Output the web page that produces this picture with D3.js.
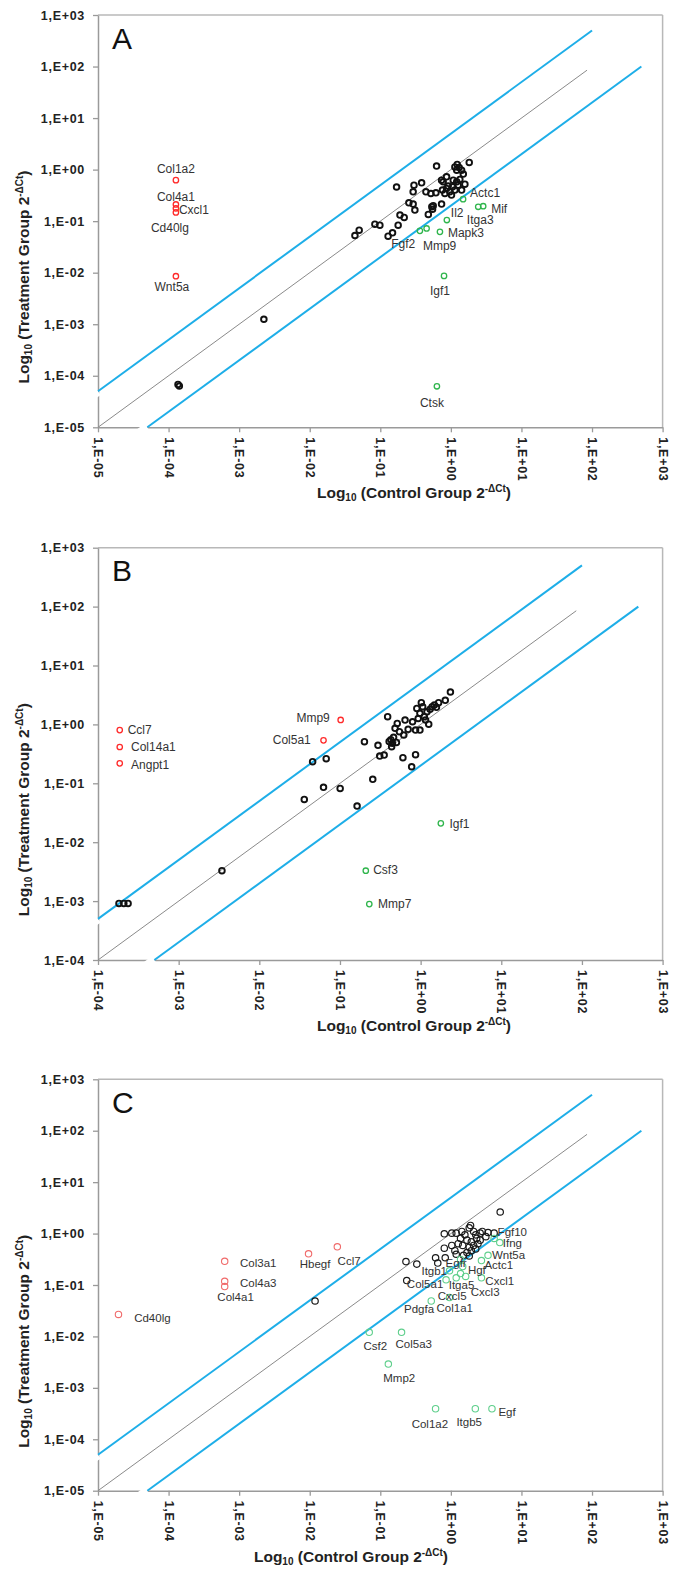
<!DOCTYPE html>
<html>
<head>
<meta charset="utf-8">
<style>
  body { margin: 0; background: #fff; font-family: "Liberation Sans", Arial, sans-serif; }
  svg { display: block; }
  .tick text { font-family: "Liberation Sans", Arial, sans-serif; font-weight: bold; font-size: 12.5px; letter-spacing: 0.7px; fill: #222; }
  .gene { font-size: 12px; fill: #333; }
  .title { font-weight: bold; font-size: 15.5px; fill: #222; }
  .panelLetter { font-size: 30px; fill: #111; }
</style>
<script src="https://d3js.org/d3.v7.min.js"></script>
</head>
<body>
<svg id="chart"></svg>
<script>
  // ---- data (x = control 2^-dCt, y = treatment 2^-dCt) ----
  const ticksAC = [1e-5, 1e-4, 1e-3, 1e-2, 1e-1, 1e0, 1e1, 1e2, 1e3];
  const tickLabelsAC = ["1,E-05", "1,E-04", "1,E-03", "1,E-02", "1,E-01", "1,E+00", "1,E+01", "1,E+02", "1,E+03"];
  const ticksB = [1e-4, 1e-3, 1e-2, 1e-1, 1e0, 1e1, 1e2, 1e3];
  const tickLabelsB = ["1,E-04", "1,E-03", "1,E-02", "1,E-01", "1,E+00", "1,E+01", "1,E+02", "1,E+03"];

  // fold lines: y = ratio * x, drawn up to xEnd
  const guideLines = [
    { ratio: 5, xEnd: 100, kind: "blue" },
    { ratio: 1, xEnd: 85, kind: "gray" },
    { ratio: 0.2, xEnd: 500, kind: "blue" }
  ];

  const blackA = [
    [2.24e-3, 1.25e-3], [1.36e-4, 6.8e-5], [1.42e-4, 6.3e-5],
    [0.17, 0.46], [0.627, 1.17], [0.30, 0.50], [0.385, 0.555], [0.292, 0.371], [0.443, 0.371],
    [0.521, 0.344], [0.614, 0.355], [0.738, 0.625], [0.869, 0.724], [0.76, 0.40], [0.738, 0.214],
    [0.537, 0.191], [0.55, 0.17], [0.562, 0.20], [0.479, 0.135], [0.254, 0.227], [0.292, 0.214],
    [0.309, 0.164], [0.19, 0.131], [0.218, 0.118], [0.179, 0.0836], [0.149, 0.0593], [0.129, 0.0512],
    [0.0838, 0.0875], [0.0986, 0.0836], [0.0502, 0.0668], [0.0437, 0.0527],
    [1.14, 1.13], [1.23, 1.26], [1.31, 1.10], [1.42, 0.977], [1.21, 0.977], [1.82, 1.38],
    [1.50, 0.818], [1.58, 0.522], [1.34, 0.646], [1.21, 0.579], [1.08, 0.625], [1.27, 0.50],
    [1.06, 0.463], [0.916, 0.479], [0.968, 0.371], [1.14, 0.40], [0.822, 0.344], [0.869, 0.432],
    [1.02, 0.32], [1.42, 0.40], [0.778, 0.579]
  ];
  const redA = [
    ["Col1a2", 1.27e-4, 0.625], ["Col4a1", 1.27e-4, 0.211], ["Cxcl1", 1.27e-4, 0.177],
    ["Cd40lg", 1.27e-4, 0.148], ["Wnt5a", 1.27e-4, 0.00855]
  ];
  const greenA = [
    ["Actc1", 1.49, 0.267], ["Mif", 2.87, 0.195], ["Itga3", 2.44, 0.19], ["Il2", 0.877, 0.105],
    ["Mapk3", 0.70, 0.062], ["Mmp9", 0.453, 0.0721], ["Fgf2", 0.364, 0.0649],
    ["Igf1", 0.80, 0.00867], ["Ctsk", 0.634, 6.25e-5]
  ];

  const blackB = [
    [1.82e-4, 9.12e-4], [2.09e-4, 9.12e-4], [2.36e-4, 9.12e-4], [3.44e-3, 3.28e-3],
    [0.0361, 0.0533], [0.0625, 0.0853], [0.1005, 0.082], [0.163, 0.0411], [0.255, 0.117],
    [0.0458, 0.233], [0.0675, 0.262], [0.201, 0.508], [0.296, 0.441], [0.311, 0.29], [0.353, 0.302],
    [0.39, 1.35], [0.427, 0.55], [0.447, 0.479], [0.437, 0.417], [0.462, 0.603], [0.407, 0.513],
    [0.501, 0.495], [0.603, 0.272], [0.774, 0.191], [0.865, 0.306], [0.482, 0.857], [0.546, 0.752],
    [0.513, 1.04], [0.618, 0.659], [0.70, 0.824], [0.641, 1.186], [0.794, 1.11], [0.865, 0.802],
    [0.98, 0.802], [0.897, 1.87], [0.98, 1.54], [1.06, 2.0], [1.11, 1.35], [1.20, 1.64],
    [1.31, 1.80], [1.39, 2.0], [1.48, 2.13], [1.57, 1.95], [1.15, 1.19], [1.26, 1.01],
    [0.933, 1.26], [1.02, 2.34], [1.67, 2.34], [2.02, 2.56], [2.34, 3.55]
  ];
  const redB = [
    ["Ccl7", 1.86e-4, 0.80], ["Col14a1", 1.86e-4, 0.413], ["Angpt1", 1.86e-4, 0.218],
    ["Mmp9", 0.102, 1.19], ["Col5a1", 0.0625, 0.536]
  ];
  const greenB = [
    ["Igf1", 1.78, 0.0209], ["Csf3", 0.209, 3.28e-3], ["Mmp7", 0.231, 8.9e-4]
  ];

  const blackC = [
    [0.0119, 0.0488], [0.231, 0.285], [0.329, 0.255], [0.237, 0.122], [5.0, 2.63],
    [0.807, 0.989], [0.807, 0.519], [0.832, 0.339], [0.607, 0.339], [0.652, 0.267],
    [1.03, 1.02], [1.19, 1.02], [1.43, 1.10], [1.58, 0.944], [1.82, 1.29], [1.90, 1.44],
    [2.10, 1.10], [2.25, 0.944], [2.60, 1.02], [2.79, 1.10], [3.36, 1.05], [4.10, 1.02],
    [1.37, 0.805], [1.69, 0.745], [1.95, 0.689], [2.32, 0.805], [2.60, 0.745], [3.13, 0.871],
    [1.27, 0.635], [1.47, 0.587], [1.82, 0.543], [2.10, 0.587], [2.42, 0.635], [1.03, 0.587],
    [1.14, 0.465], [1.69, 0.429], [1.95, 0.465], [2.25, 0.502], [1.19, 0.396], [1.51, 0.378],
    [1.82, 0.366]
  ];
  const redC = [
    ["Cd40lg", 1.95e-5, 0.0268], ["Col3a1", 6.24e-4, 0.289], ["Col4a3", 6.24e-4, 0.118],
    ["Col4a1", 6.24e-4, 0.0931], ["Hbegf", 9.62e-3, 0.403], ["Ccl7", 0.0246, 0.552]
  ];
  const greenC = [
    ["Csf2", 0.0697, 0.012], ["Col5a3", 0.2, 0.012], ["Mmp2", 0.13, 2.9e-3],
    ["Col1a2", 0.607, 3.92e-4], ["Itgb5", 2.22, 3.92e-4], ["Egf", 3.82, 3.92e-4],
    ["Pdgfa", 0.527, 0.0488], ["Col1a1", 0.957, 0.057], ["Cxcl5", 1.19, 0.138],
    ["Cxcl3", 1.62, 0.147], ["Cxcl1", 2.71, 0.138], ["Itga5", 1.37, 0.167],
    ["Col5a1", 0.855, 0.126], ["Itgb1", 0.957, 0.189], ["Hgf", 1.47, 0.229],
    ["Egfr", 1.37, 0.313], ["Actc1", 2.71, 0.299], ["Wnt5a", 3.36, 0.378],
    ["Ifng", 4.93, 0.667], ["Fgf10", 4.10, 0.805]
  ];

  // ---- label placement (px offsets from the point: dx, dy, anchor) ----
  const labelPosA = {
    Col1a2: [0, -6.7, "middle"], Col4a1: [0, -3.6, "middle"], Cxcl1: [3, 6, "start"],
    Cd40lg: [-6, 19.4, "middle"], Wnt5a: [-4, 14.7, "middle"],
    Actc1: [7, -2, "start"], Mif: [8, 6.7, "start"], Itga3: [2, 17.5, "middle"],
    Il2: [4, -3, "start"], Mapk3: [8, 5.6, "start"], Mmp9: [13, 22, "middle"],
    Fgf2: [-16.7, 17.6, "middle"], Igf1: [-4, 19.3, "middle"], Ctsk: [-5, 21, "middle"]
  };
  const labelPosB = {
    Ccl7: [7.9, 4.3, "start"], Col14a1: [11.3, 4, "start"], Angpt1: [11.3, 5.3, "start"],
    Mmp9: [-10.9, 2, "end"], Col5a1: [-12.7, 4, "end"],
    Igf1: [8.7, 5, "start"], Csf3: [7.4, 3, "start"], Mmp7: [8.7, 4.3, "start"]
  };
  const labelPosC = {
    Cd40lg: [15.7, 7.5, "start"], Col3a1: [15.3, 5.3, "start"], Col4a3: [15.3, 5.3, "start"],
    Col4a1: [10.9, 14.9, "middle"], Hbegf: [6.5, 13.8, "middle"], Ccl7: [11.8, 17.7, "middle"],
    Csf2: [6.1, 17.7, "middle"], Col5a3: [12.2, 15.2, "middle"], Mmp2: [10.9, 17.7, "middle"],
    Col1a2: [-5.7, 19.4, "middle"], Itgb5: [-6.1, 17, "middle"], Egf: [6.5, 7.1, "start"],
    Pdgfa: [-12.2, 12, "middle"], Col1a1: [5.2, 14.5, "middle"], Cxcl5: [-4, 22, "middle"],
    Cxcl3: [19.5, 20.1, "middle"], Cxcl1: [3.9, 7.1, "start"], Itga5: [1, 15.5, "middle"],
    Col5a1: [-21, 7.8, "middle"], Itgb1: [-15.3, 4.6, "middle"], Hgf: [5.2, 7.1, "start"],
    Egfr: [-4.4, 7.3, "middle"], Actc1: [3, 8.6, "start"], Wnt5a: [3.9, 3.8, "start"],
    Ifng: [3, 4.3, "start"], Fgf10: [3.5, -2.7, "start"]
  };

  const width = 681, height = 1572;
  const plotLeft = 98, plotRight = 662.6;

  const panels = [
    { letter: "A", top: 15, bottom: 427.3, domain: [1e-5, 1e3], ticks: ticksAC, tickLabels: tickLabelsAC,
      black: blackA, red: redA, green: greenA, labels: labelPosA, xTitleX: 414, light: false },
    { letter: "B", top: 547.7, bottom: 960, domain: [1e-4, 1e3], ticks: ticksB, tickLabels: tickLabelsB,
      black: blackB, red: redB, green: greenB, labels: labelPosB, xTitleX: 414, light: false },
    { letter: "C", top: 1079.3, bottom: 1490.7, domain: [1e-5, 1e3], ticks: ticksAC, tickLabels: tickLabelsAC,
      black: blackC, red: redC, green: greenC, labels: labelPosC, xTitleX: 351, light: true }
  ];

  const svg = d3.select("#chart").attr("width", width).attr("height", height);

  function drawAxes(g, p, x, y) {
    // top and right frame
    g.append("line").attr("x1", plotLeft).attr("x2", plotRight).attr("y1", p.top).attr("y2", p.top)
      .attr("stroke", "#b8b8b8").attr("stroke-width", 1.5);
    g.append("line").attr("x1", plotRight).attr("x2", plotRight).attr("y1", p.top).attr("y2", p.bottom)
      .attr("stroke", "#b8b8b8").attr("stroke-width", 1.5);

    let axisY = d3.axisLeft(y).tickValues(p.ticks).tickFormat((d, i) => p.tickLabels[i])
      .tickSize(5).tickPadding(8).tickSizeOuter(0);
    let gy = g.append("g").attr("transform", `translate(${plotLeft},0)`).call(axisY);

    let axisX = d3.axisBottom(x).tickValues(p.ticks).tickFormat((d, i) => p.tickLabels[i])
      .tickSize(5).tickSizeOuter(0);
    let gx = g.append("g").attr("transform", `translate(0,${p.bottom})`).call(axisX);
    gx.selectAll("text")
      .attr("transform", "rotate(90)")
      .attr("x", 10).attr("y", 0).attr("dy", "0.35em")
      .style("text-anchor", "start");

    [gx, gy].forEach(a => {
      a.select(".domain").attr("stroke", "#9a9a9a").attr("stroke-width", 1.5);
      a.selectAll(".tick line").attr("stroke", "#9a9a9a").attr("stroke-width", 1.3);
    });
  }

  function drawGuides(g, p, x, y) {
    let lo = p.domain[0];
    guideLines.forEach(l => {
      let x0 = Math.max(lo, lo / l.ratio);
      let p0 = [x(x0), y(x0 * l.ratio)];
      let p1 = [x(l.xEnd), y(l.xEnd * l.ratio)];
      if (l.kind === "blue") {
        // small white break where the line meets the axis
        let len = Math.hypot(p1[0] - p0[0], p1[1] - p0[1]);
        let u = [(p1[0] - p0[0]) / len, (p1[1] - p0[1]) / len];
        g.append("line")
          .attr("x1", p0[0]).attr("y1", p0[1])
          .attr("x2", p0[0] - u[0] * 10).attr("y2", p0[1] - u[1] * 10)
          .attr("stroke", "#fff").attr("stroke-width", 9);
      }
      g.append("line")
        .attr("x1", p0[0]).attr("y1", p0[1]).attr("x2", p1[0]).attr("y2", p1[1])
        .attr("stroke", l.kind === "blue" ? "#1eaee8" : "#8a8a8a")
        .attr("stroke-width", l.kind === "blue" ? 2 : 1);
    });
  }

  function drawPoints(g, p, x, y) {
    let r = p.light ? 3.2 : 2.8;
    let colors = p.light
      ? { black: "#1a1a1a", red: "#f06a6a", green: "#5fcf8c" }
      : { black: "#111", red: "#ff2a2a", green: "#2fb54c" };

    g.selectAll(".black").data(p.black).enter().append("circle")
      .attr("cx", d => x(d[0])).attr("cy", d => y(d[1])).attr("r", r)
      .attr("fill", "none").attr("stroke", colors.black).attr("stroke-width", p.light ? 1.2 : 1.9);

    [["red", p.red], ["green", p.green]].forEach(([c, list]) => {
      g.selectAll(".pt-" + c).data(list).enter().append("circle")
        .attr("cx", d => x(d[1])).attr("cy", d => y(d[2])).attr("r", p.light ? r : 2.7)
        .attr("fill", "none").attr("stroke", colors[c]).attr("stroke-width", p.light ? 1.1 : 1.3);

      g.selectAll(".lab-" + c).data(list).enter().append("text")
        .attr("class", "gene")
        .attr("x", d => x(d[1]) + p.labels[d[0]][0])
        .attr("y", d => y(d[2]) + p.labels[d[0]][1])
        .attr("text-anchor", d => p.labels[d[0]][2])
        .style("font-size", p.light ? "11.5px" : null)
        .text(d => d[0]);
    });
  }

  function drawTitles(g, p) {
    g.append("text").attr("class", "panelLetter").attr("x", 112).attr("y", p.top + 33.5).text(p.letter);

    let xt = g.append("text").attr("class", "title")
      .attr("x", p.xTitleX).attr("y", p.bottom + 71).attr("text-anchor", "middle");
    xt.append("tspan").text("Log");
    xt.append("tspan").attr("font-size", "10px").attr("dy", 3).text("10");
    xt.append("tspan").attr("dy", -3).text(" (Control  Group 2");
    xt.append("tspan").attr("font-size", "10px").attr("dy", -6).text("-ΔCt");
    xt.append("tspan").attr("dy", 6).text(")");

    let yt = g.append("text").attr("class", "title")
      .attr("transform", `translate(29,${p.top + 262}) rotate(-90)`).attr("text-anchor", "middle");
    yt.append("tspan").text("Log");
    yt.append("tspan").attr("font-size", "10px").attr("dy", 3).text("10");
    yt.append("tspan").attr("dy", -3).text(" (Treatment Group 2");
    yt.append("tspan").attr("font-size", "10px").attr("dy", -6).text("-ΔCt");
    yt.append("tspan").attr("dy", 6).text(")");
  }

  panels.forEach(p => {
    let x = d3.scaleLog().domain(p.domain).range([plotLeft, plotRight]);
    let y = d3.scaleLog().domain(p.domain).range([p.bottom, p.top]);
    let g = svg.append("g");
    drawAxes(g, p, x, y);
    drawGuides(g, p, x, y);
    drawPoints(g, p, x, y);
    drawTitles(g, p);
  });
</script>
</body>
</html>
